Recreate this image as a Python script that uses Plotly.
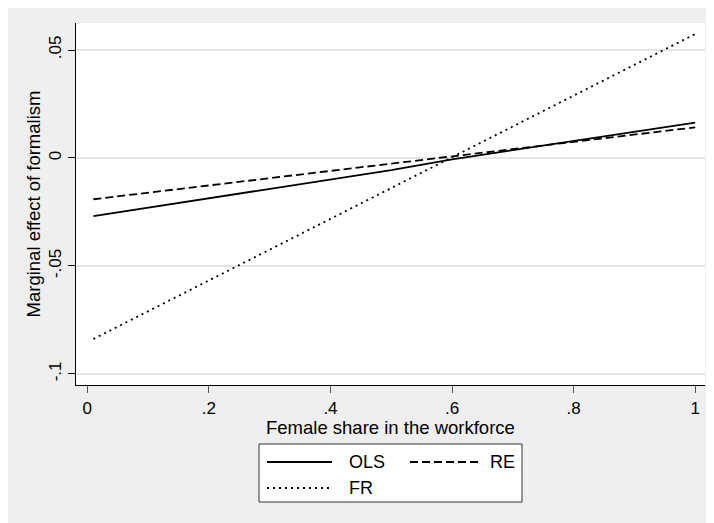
import plotly.graph_objects as go

# ---- data ----
share = [0.01, 0.2, 0.4, 0.5, 0.6, 0.8, 1.0]
ols = [-0.0269, -0.0187, -0.0100, -0.0056, -0.0006, 0.0079, 0.0164]
re = [-0.0191, -0.0127, -0.0060, -0.0026, 0.0007, 0.0075, 0.0142]
fr = [-0.0838, -0.0567, -0.0282, -0.0139, 0.0003, 0.0288, 0.0574]

xticks = [0, 0.2, 0.4, 0.6, 0.8, 1]
xlabels = ["0", ".2", ".4", ".6", ".8", "1"]
yticks = [-0.1, -0.05, 0, 0.05]
ylabels = ["-.1", "-.05", "0", ".05"]

series = [("OLS", ols, "solid"), ("RE", re, "8px,4px"), ("FR", fr, "2px,4px")]

FONT = "Liberation Sans, Arial, sans-serif"
OFF = 8                      # page offset of the figure (body margin)
W, H = 706, 515
L, R, T, B = 68, 9, 15, 138
PW, PH = W - L - R, H - T - B
GREY = "#EFEFEF"


def px(x):                   # page pixel -> paper fraction
    return (x - OFF - L) / PW


def py(y):
    return (H - B - (y - OFF)) / PH


fig = go.Figure()
for name, vals, dash in series:
    fig.add_trace(go.Scatter(x=share, y=vals, mode="lines", name=name,
                             line=dict(color="black", width=1.8, dash=dash),
                             showlegend=False))

shapes = []
# legend box
shapes.append(dict(type="rect", xref="paper", yref="paper", x0=px(259), x1=px(522),
                   y0=py(502), y1=py(444), fillcolor="white",
                   line=dict(color="#333333", width=1)))
annotations = []
legend_pos = [(267, 332, 462, 347), (410, 478, 462, 488), (267, 332, 488, 347)]
for (name, vals, dash), (lx0, lx1, ly, tx) in zip(series, legend_pos):
    shapes.append(dict(type="line", xref="paper", yref="paper", x0=px(lx0), x1=px(lx1),
                       y0=py(ly), y1=py(ly), line=dict(color="black", width=1.8, dash=dash)))
    annotations.append(dict(xref="paper", yref="paper", x=px(tx), y=py(ly), text=name,
                            showarrow=False, xanchor="left", yanchor="middle",
                            font=dict(family=FONT, size=18, color="black")))
# x-axis title
annotations.append(dict(xref="paper", yref="paper", x=px(391), y=py(427),
                        text="Female share in the workforce", showarrow=False,
                        xanchor="center", yanchor="middle",
                        font=dict(family=FONT, size=18.5, color="black")))

fig.update_layout(
    template="none",
    width=W, height=H,
    margin=dict(l=L, r=R, t=T, b=B, pad=0),
    paper_bgcolor=GREY, plot_bgcolor="white",
    font=dict(family=FONT, size=17, color="black"),
    shapes=shapes, annotations=annotations,
    showlegend=False,
)
fig.update_xaxes(
    automargin=False,
    range=[-0.0186, 1.0161], tickvals=xticks, ticktext=xlabels,
    showgrid=False, zeroline=False, showline=True, linecolor="black", linewidth=1,
    ticks="outside", ticklen=7, tickcolor="#555555", tickwidth=1,
    tickfont=dict(size=17), ticklabelstandoff=1,
)
fig.update_yaxes(
    automargin=False,
    range=[-0.1051, 0.0625], tickvals=yticks, ticktext=ylabels, tickangle=-90,
    showgrid=True, gridcolor="#E6E6E6", gridwidth=1.5, zeroline=False,
    showline=True, linecolor="black", linewidth=1,
    ticks="outside", ticklen=7, tickcolor="black", tickwidth=1,
    tickfont=dict(size=17),
    title=dict(text="Marginal effect of formalism", font=dict(size=18.5), standoff=0),
)

fig.write_html("out.html")
